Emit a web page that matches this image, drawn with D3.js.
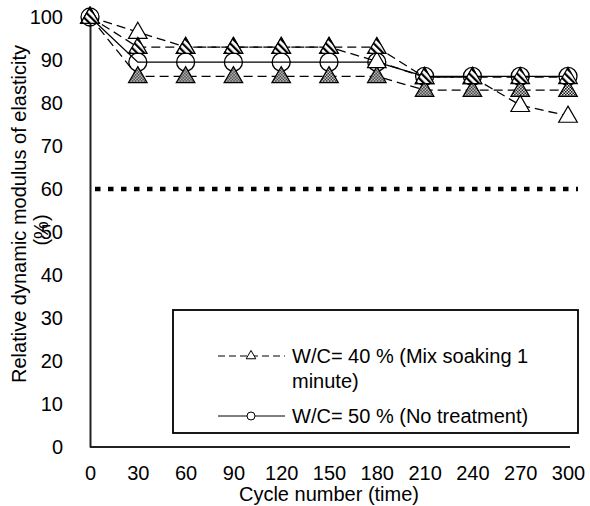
<!DOCTYPE html>
<html>
<head>
<meta charset="utf-8">
<script src="https://cdn.jsdelivr.net/npm/d3@7/dist/d3.min.js"></script>
<style>
  body { margin: 0; background: #fff; }
  svg { display: block; font-family: "Liberation Sans", Arial, sans-serif; }
</style>
</head>
<body>
<svg id="chart" width="590" height="506"></svg>
<script>
const cycles = [0, 30, 60, 90, 120, 150, 180, 210, 240, 270, 300];
const seriesOpen = [100, 96.5, 93, 93, 93, 93, 89.7, 86, 86, 79.5, 77];
const seriesHatched = [100, 93, 93, 93, 93, 93, 93, 86, 86, 86, 86];
const seriesChecked = [100, 86.2, 86.2, 86.2, 86.2, 86.2, 86.2, 83, 83, 83, 83];
const seriesCircle = [100, 89.5, 89.5, 89.5, 89.5, 89.5, 89.5, 86.2, 86.2, 86.2, 86.2];
const limitValue = 60;
const xTicks = [0, 30, 60, 90, 120, 150, 180, 210, 240, 270, 300];
const yTicks = [0, 10, 20, 30, 40, 50, 60, 70, 80, 90, 100];
const legendLabels = ["W/C= 40 % (Mix soaking 1", "minute)", "W/C= 50 % (No treatment)"];
const xTitle = "Cycle number (time)";
const yTitle = ["Relative dynamic modulus of elasticity", "(%)"];

const FS = 20;
const svg = d3.select("#chart");
const x = d3.scaleLinear().domain([0, 300]).range([90, 568]);
const y = d3.scaleLinear().domain([0, 100]).range([447, 17]);

// patterns
const defs = svg.append("defs");
const ph = defs.append("pattern").attr("id", "hatch").attr("patternUnits", "userSpaceOnUse")
  .attr("width", 5).attr("height", 5).attr("patternTransform", "rotate(-45)");
ph.append("rect").attr("width", 5).attr("height", 5).attr("fill", "#fff");
ph.append("rect").attr("width", 2.2).attr("height", 5).attr("fill", "#000");
const pc = defs.append("pattern").attr("id", "check").attr("patternUnits", "userSpaceOnUse")
  .attr("width", 3).attr("height", 3);
pc.append("rect").attr("width", 3).attr("height", 3).attr("fill", "#fff");
pc.append("rect").attr("width", 1.5).attr("height", 1.5).attr("fill", "#000");
pc.append("rect").attr("x", 1.5).attr("y", 1.5).attr("width", 1.5).attr("height", 1.5).attr("fill", "#000");

// axes
const xAxis = d3.axisBottom(x).tickValues(xTicks).tickSize(0).tickPadding(19);
const yAxis = d3.axisLeft(y).tickValues(yTicks).tickSize(0).tickPadding(27);
const gx = svg.append("g").attr("transform", `translate(0,${y(0)})`).call(xAxis);
const gy = svg.append("g").attr("transform", `translate(${x(0)},0)`).call(yAxis);
[gx, gy].forEach(g => {
  g.select(".domain").attr("stroke", "#222").attr("stroke-width", 2);
  g.selectAll("text").attr("font-size", FS).attr("fill", "#000")
    .attr("font-family", "Liberation Sans, Arial, sans-serif");
});
gx.select(".domain").attr("d", `M${x(0)},0H${x(300) + 2}`);

// titles
svg.append("text").attr("x", (x(0) + x(300)) / 2).attr("y", 501).attr("text-anchor", "middle")
  .attr("font-size", FS).text(xTitle);
svg.append("text").attr("transform", `translate(26,214) rotate(-90)`).attr("text-anchor", "middle")
  .attr("font-size", FS).text(yTitle[0]);
svg.append("text").attr("transform", `translate(48,230) rotate(-90)`).attr("text-anchor", "middle")
  .attr("font-size", FS).text(yTitle[1]);

// limit line
svg.append("line").attr("x1", x(0) + 5).attr("x2", x(300) + 10)
  .attr("y1", y(limitValue)).attr("y2", y(limitValue))
  .attr("stroke", "#000").attr("stroke-width", 4.5).attr("stroke-dasharray", "5.5,7.5");

const line = d3.line().x((d, i) => x(cycles[i])).y(d => y(d));
const dash = "9,5";
function drawLine(data, dashed) {
  svg.append("path").datum(data).attr("d", line).attr("fill", "none")
    .attr("stroke", "#000").attr("stroke-width", 1.3)
    .attr("stroke-dasharray", dashed ? dash : null);
}
const tri = d3.symbol().type(d3.symbolTriangle).size(150);
function drawTriangles(data, fill) {
  svg.append("g").selectAll("path").data(data).join("path")
    .attr("d", tri)
    .attr("transform", (d, i) => `translate(${x(cycles[i])},${y(d) + 1})`)
    .attr("fill", fill).attr("stroke", "#000").attr("stroke-width", 1.2);
}
drawLine(seriesCircle, false);
svg.append("g").selectAll("circle").data(seriesCircle).join("circle")
  .attr("cx", (d, i) => x(cycles[i])).attr("cy", d => y(d)).attr("r", 9)
  .attr("fill", "none").attr("stroke", "#000").attr("stroke-width", 1.3);
drawLine(seriesChecked, true);
drawLine(seriesOpen, true);
drawLine(seriesHatched, true);
drawTriangles(seriesChecked, "url(#check)");
drawTriangles(seriesOpen, "#fff");
drawTriangles(seriesHatched, "url(#hatch)");

// legend
const lg = svg.append("g");
lg.append("rect").attr("x", 173).attr("y", 310).attr("width", 405).attr("height", 123)
  .attr("fill", "#fff").attr("stroke", "#000").attr("stroke-width", 1.8);
lg.append("line").attr("x1", 218).attr("x2", 285).attr("y1", 356).attr("y2", 356)
  .attr("stroke", "#000").attr("stroke-width", 1).attr("stroke-dasharray", "7,4");
lg.append("path").attr("d", d3.symbol().type(d3.symbolTriangle).size(40))
  .attr("transform", "translate(251,356)").attr("fill", "#fff").attr("stroke", "#000").attr("stroke-width", 1);
lg.append("line").attr("x1", 218).attr("x2", 285).attr("y1", 416).attr("y2", 416)
  .attr("stroke", "#000").attr("stroke-width", 1);
lg.append("circle").attr("cx", 251).attr("cy", 416).attr("r", 4)
  .attr("fill", "#fff").attr("stroke", "#000").attr("stroke-width", 1);
lg.append("text").attr("x", 292).attr("y", 363).attr("font-size", FS).text(legendLabels[0]);
lg.append("text").attr("x", 292).attr("y", 388).attr("font-size", FS).text(legendLabels[1]);
lg.append("text").attr("x", 292).attr("y", 423).attr("font-size", FS).text(legendLabels[2]);
</script>
</body>
</html>
